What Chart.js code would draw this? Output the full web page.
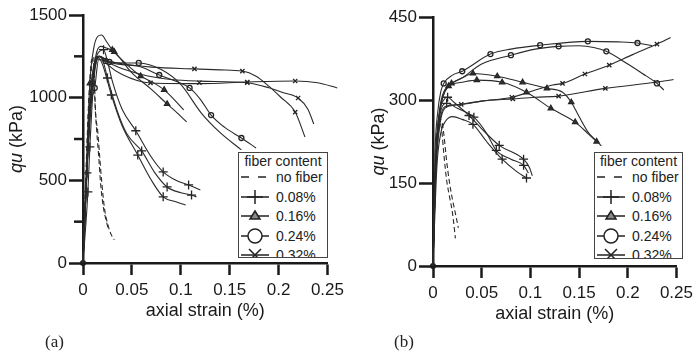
<!DOCTYPE html>
<html>
<head>
<meta charset="utf-8">
<script src="https://cdn.jsdelivr.net/npm/chart.js@4.4.1/dist/chart.umd.min.js"></script>
<style>
  body { margin: 0; background: #fff; width: 698px; height: 356px; position: relative; overflow: hidden; font-family: "Liberation Sans", Arial, sans-serif; }
  .pane { position: absolute; top: 0; width: 349px; height: 356px; }
  .legend { position: absolute; box-sizing: border-box; border: 1px solid #444; background: #fff; overflow: hidden; color: #222; font-size: 14px; }
  .legend .lt { position: absolute; left: 0; right: 0; text-align: center; line-height: 16px; }
  .legend .row { position: absolute; left: 0; right: 0; height: 18px; line-height: 18px; }
  .legend svg { position: absolute; left: 0; top: 0; }
  .legend span { position: absolute; left: 37px; }
  .tag { position: absolute; top: 332px; font-family: "Liberation Serif", "Times New Roman", serif; font-size: 17px; color: #222; }
</style>
</head>
<body>
<div class="pane" style="left:0"><canvas id="chartA" width="349" height="356"></canvas></div>
<div class="pane" style="left:349px"><canvas id="chartB" width="349" height="356"></canvas></div>
<div class="tag" style="left:45px">(a)</div>
<div class="tag" style="left:394px">(b)</div>
<div id="legA" class="legend" style="left:238px;top:152px;width:90px;height:106px"></div>
<div id="legB" class="legend" style="left:594px;top:152px;width:89px;height:107px"></div>
<script>
// ---------- axes / labels ----------
const xTicks = [0, 0.05, 0.1, 0.15, 0.2, 0.25];
const xTickLabels = ["0", "0.05", "0.1", "0.15", "0.2", "0.25"];
const yTicksA = [0, 500, 1000, 1500];
const yTickLabelsA = ["0", "500", "1000", "1500"];
const yMinorA = [250, 750, 1250];
const yTicksB = [0, 150, 300, 450];
const yTickLabelsB = ["0", "150", "300", "450"];
const legendTitle = "fiber content";
const legendLabels = ["no fiber", "0.08%", "0.16%", "0.24%", "0.32%"];

// ---------- panel (a) : [strain %, qu kPa] ----------
const aNoFiber1 = [[0,0],[0.003,500],[0.006,950],[0.009,1200],[0.011,1250],[0.012,1050],[0.013,900],[0.015,800],[0.017,650],[0.019,500],[0.022,330],[0.026,220],[0.029,170],[0.032,140]];
const aNoFiber2 = [[0,0],[0.003,550],[0.006,1000],[0.009,1230],[0.011,1200],[0.012,1000],[0.014,800],[0.016,650],[0.018,480],[0.021,330],[0.024,250],[0.026,200]];

const aP1 = [[0,0],[0.004,560],[0.008,1000],[0.013,1230],[0.018,1285],[0.021,1290],[0.025,1220],[0.03,1100],[0.04,930],[0.054,800],[0.07,640],[0.082,551],[0.095,500],[0.108,472],[0.12,442]];
const aP2 = [[0,0],[0.004,545],[0.007,850],[0.011,1150],[0.016,1250],[0.02,1230],[0.025,1119],[0.035,920],[0.045,780],[0.06,678],[0.073,550],[0.086,460],[0.1,425],[0.111,411],[0.116,400]];
const aP3 = [[0,0],[0.005,430],[0.007,702],[0.011,1100],[0.016,1240],[0.02,1200],[0.029,1016],[0.04,830],[0.056,653],[0.07,500],[0.082,400],[0.095,370],[0.105,351]];
const aP1Marks = [[0.021,1290],[0.054,800],[0.082,551],[0.108,472]];
const aP2Marks = [[0.004,545],[0.025,1119],[0.06,678],[0.086,460],[0.111,411]];
const aP3Marks = [[0.005,430],[0.007,702],[0.029,1016],[0.056,653],[0.082,400]];

const aT1 = [[0,0],[0.003,500],[0.007,1087],[0.011,1300],[0.015,1370],[0.019,1379],[0.024,1340],[0.03,1289],[0.045,1200],[0.059,1131],[0.072,1090],[0.083,1047],[0.093,990],[0.103,926]];
const aT2 = [[0,0],[0.004,560],[0.008,1000],[0.013,1250],[0.018,1310],[0.024,1300],[0.032,1277],[0.05,1150],[0.07,1050],[0.086,962],[0.096,910],[0.106,853]];
const aT1Marks = [[0.007,1087],[0.03,1289],[0.059,1131],[0.083,1047]];
const aT2Marks = [[0.032,1277],[0.086,962]];

const aO1 = [[0,0],[0.004,600],[0.008,1000],[0.012,1180],[0.017,1250],[0.023,1222],[0.04,1200],[0.057,1190],[0.078,1137],[0.095,1100],[0.109,1059],[0.12,990],[0.131,895],[0.145,820],[0.162,756],[0.177,696]];
const aO2 = [[0,0],[0.004,560],[0.008,950],[0.012,1059],[0.016,1230],[0.027,1216],[0.045,1210],[0.057,1210],[0.08,1170],[0.1,1080],[0.121,907],[0.14,790],[0.162,684]];
const aO1Marks = [[0.023,1222],[0.078,1137],[0.109,1059],[0.131,895],[0.162,756]];
const aO2Marks = [[0.012,1059],[0.027,1216],[0.057,1210]];

const aX1 = [[0,0],[0.004,600],[0.008,1050],[0.012,1220],[0.016,1250],[0.025,1225],[0.04,1205],[0.07,1185],[0.114,1174],[0.14,1168],[0.163,1161],[0.177,1130],[0.19,1070],[0.202,1004],[0.217,913],[0.227,762]];
const aX2 = [[0,0],[0.004,550],[0.008,1000],[0.012,1200],[0.017,1250],[0.025,1200],[0.04,1140],[0.069,1089],[0.12,1085],[0.168,1095],[0.217,1101],[0.24,1090],[0.26,1059]];
const aX3 = [[0,0],[0.004,580],[0.008,1030],[0.012,1210],[0.017,1250],[0.03,1200],[0.06,1140],[0.09,1110],[0.12,1100],[0.168,1090],[0.19,1060],[0.205,1030],[0.22,998],[0.23,930],[0.236,841]];
const aX1Marks = [[0.114,1174],[0.163,1161],[0.217,913]];
const aX2Marks = [[0.069,1089],[0.168,1095],[0.217,1101]];
const aX3Marks = [[0.119,1090],[0.168,1090],[0.22,998]];

// ---------- panel (b) ----------
const bNoFiber1 = [[0,0],[0.002,150],[0.004,240],[0.006,265],[0.008,255],[0.009,245],[0.011,205],[0.014,155],[0.017,125],[0.02,96],[0.023,50]];
const bNoFiber2 = [[0,0],[0.002,140],[0.005,245],[0.007,265],[0.009,262],[0.011,240],[0.014,190],[0.017,150],[0.02,120],[0.023,95],[0.026,69]];

const bP1 = [[0,0],[0.003,200],[0.007,280],[0.011,300],[0.015,305],[0.022,295],[0.037,272],[0.05,248],[0.068,218],[0.093,193],[0.099,178],[0.102,163]];
const bP2 = [[0,0],[0.003,190],[0.007,270],[0.01,290],[0.014,294],[0.025,285],[0.042,269],[0.055,240],[0.065,209],[0.08,193],[0.093,182],[0.098,168]];
const bP3 = [[0,0],[0.004,180],[0.008,240],[0.013,262],[0.02,270],[0.03,265],[0.041,256],[0.055,225],[0.071,193],[0.085,172],[0.096,159]];
const bP1Marks = [[0.015,305],[0.037,272],[0.068,218],[0.093,193]];
const bP2Marks = [[0.014,294],[0.042,269],[0.065,209],[0.093,182]];
const bP3Marks = [[0.041,256],[0.071,193],[0.096,159]];

const bT1 = [[0,0],[0.003,200],[0.007,285],[0.012,318],[0.019,330],[0.03,340],[0.041,348],[0.066,343],[0.092,332],[0.117,321],[0.133,314],[0.142,296],[0.15,270],[0.16,240],[0.168,226],[0.173,217]];
const bT2 = [[0,0],[0.003,190],[0.007,280],[0.011,310],[0.016,325],[0.03,332],[0.045,336],[0.071,332],[0.096,314],[0.121,285],[0.146,260],[0.16,238],[0.168,225]];
const bT1Marks = [[0.019,330],[0.041,348],[0.066,343],[0.092,332],[0.117,321],[0.142,296]];
const bT2Marks = [[0.016,325],[0.045,336],[0.071,332],[0.096,314],[0.121,285],[0.146,260],[0.168,225]];

const bO1 = [[0,0],[0.002,200],[0.005,280],[0.008,315],[0.011,330],[0.02,345],[0.03,352],[0.059,383],[0.08,392],[0.11,399],[0.159,406],[0.19,405],[0.21,403],[0.225,398]];
const bO2 = [[0,0],[0.003,190],[0.006,265],[0.01,305],[0.016,325],[0.03,340],[0.05,365],[0.08,381],[0.105,392],[0.129,397],[0.15,398],[0.165,395],[0.178,388],[0.2,365],[0.215,348],[0.23,330],[0.237,318]];
const bO1Marks = [[0.011,330],[0.03,352],[0.059,383],[0.11,399],[0.159,406],[0.21,403]];
const bO2Marks = [[0.08,381],[0.129,397],[0.178,388],[0.23,330]];

const bX1 = [[0,0],[0.003,180],[0.007,260],[0.012,288],[0.029,292],[0.05,298],[0.081,305],[0.105,318],[0.123,327],[0.133,330],[0.156,347],[0.181,363],[0.205,382],[0.23,401],[0.244,413]];
const bX2 = [[0,0],[0.003,170],[0.007,255],[0.012,285],[0.02,290],[0.05,298],[0.082,302],[0.105,305],[0.129,307],[0.177,321],[0.229,332],[0.247,337]];
const bX1Marks = [[0.029,292],[0.081,305],[0.133,330],[0.156,347],[0.181,363],[0.23,401]];
const bX2Marks = [[0.082,302],[0.129,307],[0.177,321],[0.229,332]];

const origin = [[0,0]];

// ---------- helpers ----------
const INK = "#1a1a1a";
const xy = pts => pts.map(([x, y]) => ({ x, y }));

function curve(pts, dashed) {
  return {
    data: xy(pts), showLine: true, borderColor: "#2a2a2a", borderWidth: 1.1,
    borderDash: dashed ? [5, 3] : [], pointRadius: 0,
    cubicInterpolationMode: "monotone", clip: false
  };
}

function marks(pts, style, r) {
  return {
    data: xy(pts), showLine: false, pointStyle: style, pointRadius: r,
    pointBorderColor: "#222", pointBorderWidth: 1.3,
    pointBackgroundColor: style === "triangle" ? "#444" : "#fff", clip: false
  };
}

const extras = {
  id: "extras",
  afterDraw(chart, args, opts) {
    const ctx = chart.ctx, ys = chart.scales.y, area = chart.chartArea;
    ctx.save();
    // short minor ticks on the y axis
    ctx.strokeStyle = INK;
    ctx.lineWidth = 2.5;
    (opts.minor || []).forEach(v => {
      const py = ys.getPixelForValue(v);
      ctx.beginPath();
      ctx.moveTo(area.left - 9, py);
      ctx.lineTo(area.left, py);
      ctx.stroke();
    });
    // y title with italic "qu"
    ctx.translate(opts.titleX, (area.top + area.bottom) / 2);
    ctx.rotate(-Math.PI / 2);
    ctx.fillStyle = INK;
    ctx.textBaseline = "middle";
    const f1 = 'italic 18px "Liberation Sans"', f2 = '18px "Liberation Sans"';
    ctx.font = f1;
    const w1 = ctx.measureText("qu").width;
    ctx.font = f2;
    const w2 = ctx.measureText(" (kPa)").width;
    const x0 = -(w1 + w2) / 2;
    ctx.font = f1;
    ctx.fillText("qu", x0, 0);
    ctx.font = f2;
    ctx.fillText(" (kPa)", x0 + w1, 0);
    ctx.restore();
  }
};

function makeChart(id, datasets, yMax, yTicks, yLabels, pad, yWidth, extraOpts) {
  return new Chart(document.getElementById(id), {
    type: "scatter",
    data: { datasets },
    plugins: [extras],
    options: {
      responsive: false,
      animation: false,
      devicePixelRatio: 1,
      layout: { padding: pad },
      plugins: { legend: { display: false }, tooltip: { enabled: false }, extras: extraOpts },
      events: [],
      scales: {
        x: {
          type: "linear", min: 0, max: 0.25,
          afterBuildTicks: axis => { axis.ticks = xTicks.map(v => ({ value: v })); },
          afterFit: scale => { scale.height = 60; },
          grid: { drawOnChartArea: false, tickLength: 12, tickWidth: 2.5, tickColor: INK },
          border: { display: true, width: 2.5, color: INK },
          ticks: { callback: (v, i) => xTickLabels[i], color: INK, padding: 5, maxRotation: 0,
                   font: { family: "Liberation Sans", size: 17 } },
          title: { display: true, text: "axial strain (%)", color: INK, padding: { top: 0, bottom: 1 },
                   font: { family: "Liberation Sans", size: 18 } }
        },
        y: {
          type: "linear", min: 0, max: yMax,
          afterBuildTicks: axis => { axis.ticks = yTicks.map(v => ({ value: v })); },
          afterFit: scale => { scale.width = yWidth; },
          grid: { drawOnChartArea: false, tickLength: 14, tickWidth: 2.5, tickColor: INK },
          border: { display: true, width: 2.5, color: INK },
          ticks: { callback: (v, i) => yLabels[i], color: INK, padding: 2,
                   font: { family: "Liberation Sans", size: 17 } }
        }
      }
    }
  });
}

// ---------- panel (a) ----------
makeChart("chartA", [
  curve(aNoFiber1, true), curve(aNoFiber2, true),
  curve(aP1), curve(aP2), curve(aP3),
  curve(aT1), curve(aT2),
  curve(aO1), curve(aO2),
  curve(aX1), curve(aX2), curve(aX3),
  marks(aP1Marks, "cross", 4.5), marks(aP2Marks, "cross", 4.5), marks(aP3Marks, "cross", 4.5),
  marks(aT1Marks, "triangle", 3), marks(aT2Marks, "triangle", 3),
  marks(aO1Marks, "circle", 2.5), marks(aO2Marks, "circle", 2.5),
  marks(aX1Marks, "crossRot", 3), marks(aX2Marks, "crossRot", 3), marks(aX3Marks, "crossRot", 3),
  { data: xy(origin), pointRadius: 3, pointBackgroundColor: INK, pointBorderWidth: 0, clip: false }
], 1500, yTicksA, yTickLabelsA, { left: 0, top: 15, right: 19, bottom: 33 }, 83,
   { minor: yMinorA, titleX: 17 });

// ---------- panel (b) ----------
makeChart("chartB", [
  curve(bNoFiber1, true), curve(bNoFiber2, true),
  curve(bP1), curve(bP2), curve(bP3),
  curve(bT1), curve(bT2),
  curve(bO1), curve(bO2),
  curve(bX1), curve(bX2),
  marks(bP1Marks, "cross", 4.5), marks(bP2Marks, "cross", 4.5), marks(bP3Marks, "cross", 4.5),
  marks(bT1Marks, "triangle", 3), marks(bT2Marks, "triangle", 3),
  marks(bO1Marks, "circle", 2.5), marks(bO2Marks, "circle", 2.5),
  marks(bX1Marks, "crossRot", 3), marks(bX2Marks, "crossRot", 3),
  { data: xy(origin), pointRadius: 3, pointBackgroundColor: INK, pointBorderWidth: 0, clip: false }
], 450, yTicksB, yTickLabelsB, { left: 0, top: 17, right: 17, bottom: 30 }, 84,
   { minor: [], titleX: 30 });

// ---------- legends ----------
const legendGlyphs = [
  '<line x1="2" y1="9" x2="10" y2="9"/><line x1="19" y1="9" x2="27" y2="9"/>',
  '<line x1="2" y1="9" x2="30" y2="9"/><line x1="8" y1="9" x2="24" y2="9"/><line x1="16" y1="2" x2="16" y2="16"/>',
  '<line x1="2" y1="9" x2="30" y2="9"/><polygon points="16,4 21,12 11,12" fill="#888"/>',
  '<line x1="2" y1="9" x2="9" y2="9"/><line x1="23" y1="9" x2="30" y2="9"/><circle cx="16" cy="9" r="7" fill="#fff"/>',
  '<line x1="2" y1="9" x2="30" y2="9"/><line x1="10" y1="3" x2="22" y2="15"/><line x1="22" y1="3" x2="10" y2="15"/>'
];

function buildLegend(id) {
  const box = document.getElementById(id);
  let html = '<div class="lt" style="top:0px">' + legendTitle + '</div>';
  legendLabels.forEach((lab, i) => {
    const top = 15 + i * 19.6;
    html += '<div class="row" style="top:' + top + 'px">' +
      '<svg width="34" height="18" stroke="#222" stroke-width="1.5" fill="none">' + legendGlyphs[i] + '</svg>' +
      '<span>' + lab + '</span></div>';
  });
  box.innerHTML = html;
}
buildLegend("legA");
buildLegend("legB");
</script>
</body>
</html>
